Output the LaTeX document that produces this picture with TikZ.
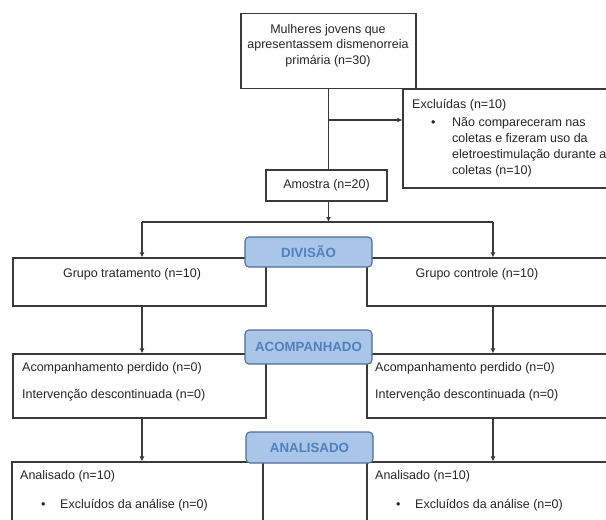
\documentclass[tikz,border=0pt]{standalone}
\usepackage{fontspec}
\setmainfont{Liberation Sans}
\usetikzlibrary{arrows.meta}
\definecolor{lnc}{HTML}{3A3A3A}
\definecolor{txc}{HTML}{262626}
\definecolor{lblfill}{HTML}{A9C5E8}
\definecolor{lbldraw}{HTML}{4F6E96}
\definecolor{lbltext}{HTML}{4F81BD}
\begin{document}
\begin{tikzpicture}[x=1pt,y=-1pt,
  box/.style={draw=lnc,line width=1.1pt,rectangle,inner sep=0pt},
  lbl/.style={draw=lbldraw,line width=1.1pt,fill=lblfill,rounded corners=4pt,minimum width=127pt,inner sep=0pt,font=\fontsize{13.3}{15}\selectfont\bfseries,text=lbltext},
  txt/.style={font=\fontsize{12.5}{15.5}\selectfont,text=txc,inner sep=0pt,text height=9pt,text depth=2.5pt},
  arr/.style={draw=lnc,line width=1.1pt,-{Latex[length=5pt,width=5pt]}},
  ln/.style={draw=lnc,line width=1.1pt}]
\clip (0,0) rectangle (606,520);
\fill[white] (0,0) rectangle (606,520);
% boxes
\node[box,minimum width=175pt,minimum height=75pt] (top) at (328.5,51) {};
\node[box,minimum width=257pt,minimum height=99pt] (excl) at (531.5,138.5) {};
\node[box,minimum width=121pt,minimum height=31pt,txt] (amostra) at (326.5,185.5) {Amostra (n=20)};
\node[box,minimum width=253pt,minimum height=48pt] (gt) at (139.5,282) {};
\node[box,minimum width=293pt,minimum height=48pt] (gc) at (513.5,282) {};
\node[box,minimum width=253pt,minimum height=64pt] (acl) at (139.5,386) {};
\node[box,minimum width=293pt,minimum height=64pt] (acr) at (513.5,386) {};
\node[box,minimum width=251pt,minimum height=98pt] (anl) at (137.5,511) {};
\node[box,minimum width=293pt,minimum height=98pt] (anr) at (513.5,511) {};
% texts
\node[txt] (t1) at (328,30) {Mulheres jovens que};
\node[txt] (t2) at (328,45.5) {apresentassem dismenorreia};
\node[txt] (t3) at (328,61) {primária (n=30)};
\node[txt,anchor=west] (e0) at (412,105) {Excluídas (n=10)};
\node[txt,anchor=west] (eb) at (431,123) {•};
\node[txt,anchor=west] (e1) at (452,123) {Não compareceram nas};
\node[txt,anchor=west] (e2) at (452,139) {coletas e fizeram uso da};
\node[txt,anchor=west] (e3) at (452,155) {eletroestimulação durante a};
\node[txt,anchor=west] (e4) at (452,171) {coletas (n=10)};
\node[txt] (gtt) at (132,274) {Grupo tratamento (n=10)};
\node[txt] (gct) at (477,274) {Grupo controle (n=10)};
\node[txt,anchor=west] (al1) at (22,368) {Acompanhamento perdido (n=0)};
\node[txt,anchor=west] (al2) at (22,395) {Intervenção descontinuada (n=0)};
\node[txt,anchor=west] (ar1) at (375,368) {Acompanhamento perdido (n=0)};
\node[txt,anchor=west] (ar2) at (375,395) {Intervenção descontinuada (n=0)};
\node[txt,anchor=west] (nl1) at (20,476) {Analisado (n=10)};
\node[txt,anchor=west] (nlb) at (41,505) {•};
\node[txt,anchor=west] (nl2) at (60,505) {Excluídos da análise (n=0)};
\node[txt,anchor=west] (nr1) at (375,476) {Analisado (n=10)};
\node[txt,anchor=west] (nrb) at (396,505) {•};
\node[txt,anchor=west] (nr2) at (415,505) {Excluídos da análise (n=0)};
% connectors
\coordinate (j1) at (328.5,120);
\coordinate (j2) at (328.5,222);
\coordinate (jl) at (142,222);
\coordinate (jr) at (493,222);
\draw[ln] (top.south) -- (top.south |- amostra.north);
\draw[arr] (j1) -- (j1 -| excl.west);
\draw[arr] (amostra.south -| j2) -- (j2);
\draw[ln] (jl) -- (jr);
\draw[arr] (jl) -- (jl |- gt.north);
\draw[arr] (jr) -- (jr |- gc.north);
\draw[arr] (gt.south -| jl) -- (jl |- acl.north);
\draw[arr] (gc.south -| jr) -- (jr |- acr.north);
\draw[arr] (acl.south -| jl) -- (jl |- anl.north);
\draw[arr] (acr.south -| jr) -- (jr |- anr.north);
% stage labels
\node[lbl,minimum height=30pt] (div) at (308.5,252) {DIVISÃO};
\node[lbl,minimum height=34pt] (acomp) at (308.5,347) {ACOMPANHADO};
\node[lbl,minimum height=31pt] (anal) at (309.5,447.5) {ANALISADO};
\end{tikzpicture}
\end{document}
